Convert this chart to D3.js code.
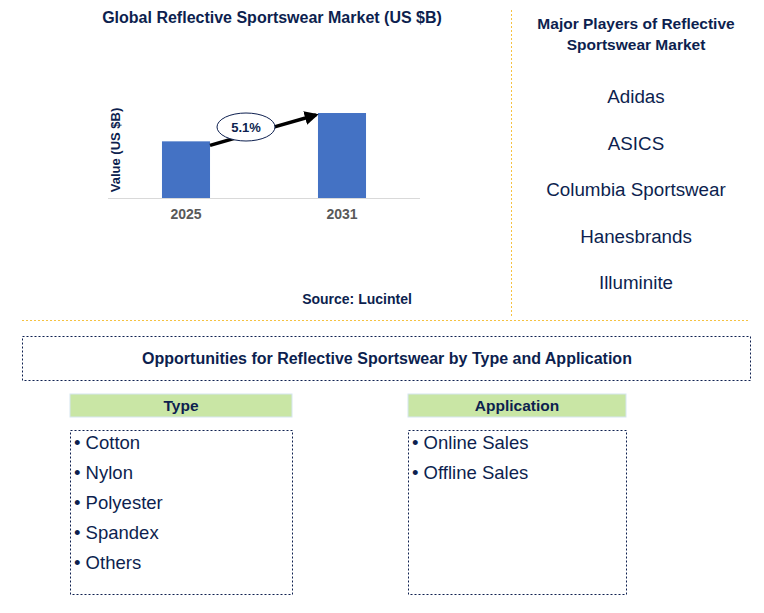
<!DOCTYPE html><html><head><meta charset="utf-8">
<script src="https://cdn.jsdelivr.net/npm/d3@7"></script>
<style>body{margin:0;background:#fff}text{font-family:Arial,"Liberation Sans",sans-serif}</style></head><body>
<script>
const years=["2025","2031"];
const values=[2.0,3.0];
const cagr="5.1%";
const players=["Adidas","ASICS","Columbia Sportswear","Hanesbrands","Illuminite"];
const types=["Cotton","Nylon","Polyester","Spandex","Others"];
const apps=["Online Sales","Offline Sales"];
const navy="#0d1f4f";
const svg=d3.select("body").append("svg").attr("width",764).attr("height",613);
svg.append("text").attr("x",272).attr("y",23).attr("text-anchor","middle").attr("font-size",16).attr("font-weight","bold").attr("fill",navy).text("Global Reflective Sportswear Market (US $B)");
const x=d3.scaleBand().domain(years).range([108,420]).paddingInner(0.692).paddingOuter(0.346);
const y=d3.scaleLinear().domain([0,3.53]).range([198,98]);
svg.selectAll(".bar").data(years).enter().append("rect").attr("x",d=>x(d)).attr("width",x.bandwidth()).attr("y",(d,i)=>y(values[i])).attr("height",(d,i)=>198-y(values[i])).attr("fill","#4472c4");
svg.append("line").attr("x1",108).attr("x2",420).attr("y1",198.5).attr("y2",198.5).attr("stroke","#d9d9d9");
years.forEach(d=>svg.append("text").attr("x",x(d)+x.bandwidth()/2).attr("y",219).attr("text-anchor","middle").attr("font-size",14).attr("font-weight","bold").attr("fill","#595959").text(d));
svg.append("text").attr("transform","translate(120,150) rotate(-90)").attr("text-anchor","middle").attr("font-size",13).attr("font-weight","bold").attr("fill",navy).text("Value (US $B)");
svg.append("defs").append("marker").attr("id","ah").attr("viewBox","0 0 10 10").attr("refX",8).attr("refY",5).attr("markerWidth",4).attr("markerHeight",4).attr("orient","auto").append("path").attr("d","M0,0L10,5L0,10z").attr("fill","#000");
const x0=x("2025")+x.bandwidth(), x1=x("2031");
svg.append("line").attr("x1",x0).attr("y1",y(values[0])+4).attr("x2",x1-2).attr("y2",y(values[1])+2).attr("stroke","#000").attr("stroke-width",3.5).attr("marker-end","url(#ah)");
svg.append("ellipse").attr("cx",246).attr("cy",127).attr("rx",29).attr("ry",14).attr("fill","#fff").attr("stroke",navy).attr("stroke-width",1);
svg.append("text").attr("x",246).attr("y",132).attr("text-anchor","middle").attr("font-size",13).attr("font-weight","bold").attr("fill",navy).text(cagr);
svg.append("text").attr("x",357).attr("y",304).attr("text-anchor","middle").attr("font-size",14).attr("font-weight","bold").attr("fill",navy).text("Source: Lucintel");
const gold="#f5c242";
svg.append("line").attr("x1",511.5).attr("x2",511.5).attr("y1",10).attr("y2",318).attr("stroke",gold).attr("stroke-dasharray","2,2");
svg.append("line").attr("x1",22).attr("x2",750).attr("y1",320.5).attr("y2",320.5).attr("stroke",gold).attr("stroke-dasharray","2,2");
svg.append("text").attr("x",636).attr("y",29).attr("text-anchor","middle").attr("font-size",15.5).attr("font-weight","bold").attr("fill",navy).text("Major Players of Reflective");
svg.append("text").attr("x",636).attr("y",50).attr("text-anchor","middle").attr("font-size",15.5).attr("font-weight","bold").attr("fill",navy).text("Sportswear Market");
players.forEach((p,i)=>svg.append("text").attr("x",636).attr("y",103+i*46.5).attr("text-anchor","middle").attr("font-size",18.8).attr("fill",navy).text(p));
svg.append("rect").attr("x",22.5).attr("y",336.5).attr("width",728).attr("height",44).attr("fill","none").attr("stroke",navy).attr("stroke-dasharray","2,2");
svg.append("text").attr("x",387).attr("y",364).attr("text-anchor","middle").attr("font-size",16).attr("font-weight","bold").attr("fill",navy).text("Opportunities for Reflective Sportswear by Type and Application");
function col(x0,w,title,items){
  svg.append("rect").attr("x",x0).attr("y",394).attr("width",w).attr("height",23).attr("fill","#c9e6a5").attr("stroke","#d6e6f0");
  svg.append("text").attr("x",x0+w/2).attr("y",411).attr("text-anchor","middle").attr("font-size",15.5).attr("font-weight","bold").attr("fill",navy).text(title);
  svg.append("rect").attr("x",x0+0.5).attr("y",430.5).attr("width",w).attr("height",164).attr("fill","none").attr("stroke",navy).attr("stroke-dasharray","2,2");
  items.forEach((t,i)=>svg.append("text").attr("x",x0+4).attr("y",449+i*30).attr("font-size",18.5).attr("fill",navy).text("\u2022 "+t));
}
col(70,222,"Type",types);col(408,218,"Application",apps);
</script></body></html>
